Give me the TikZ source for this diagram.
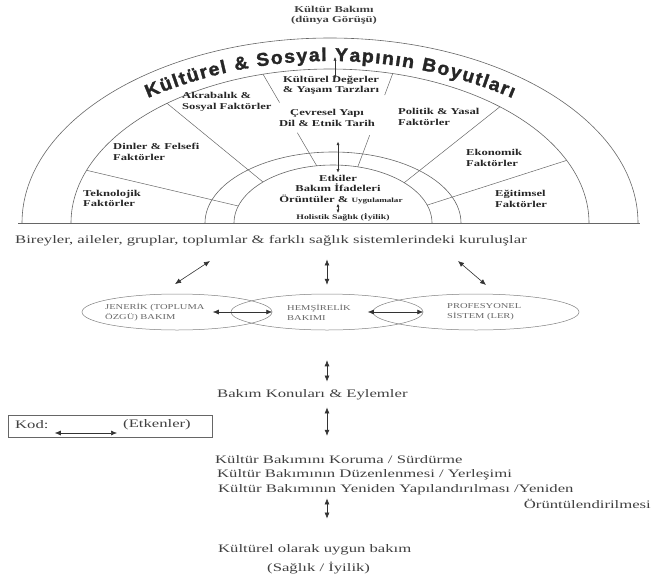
\documentclass[tikz,border=0pt]{standalone}
\usepackage{fontspec}
\setmainfont{Liberation Serif}[FakeStretch=1.4]
\newfontfamily\bodyfont{Liberation Serif}[FakeStretch=1.45]
\newfontfamily\titlefont{Liberation Sans}[FakeStretch=1.05,FakeBold=1.6]
\usetikzlibrary{arrows.meta,calc,shapes.geometric,decorations.text}
\newcommand\ttlfont{\titlefont\bfseries\fontsize{18.5}{18.5}\selectfont}
\tikzset{
  ring/.style={draw,black!60,line width=0.6pt},
  spoke/.style={draw,black!60,line width=0.5pt},
  lbl/.style={inner sep=0pt,text=black!85,font=\bfseries\fontsize{9}{10.5}\selectfont},
  body/.style={inner sep=0pt,text=black!75,font=\bodyfont\fontsize{11.5}{13}\selectfont},
  oval/.style={draw,black!50,ellipse,line width=0.5pt,minimum height=36pt,inner sep=0pt},
  ovaltxt/.style={inner sep=0pt,text=black!60,align=left,font=\fontsize{7.5}{10}\selectfont},
  dbl/.style={{Latex[length=6pt,width=5pt]}-{Latex[length=6pt,width=5pt]},line width=0.6pt,black!80},
  dsm/.style={{Latex[length=3.5pt,width=3pt]}-{Latex[length=3.5pt,width=3pt]},line width=0.5pt,black!80},
}

\begin{document}
\begin{tikzpicture}[x=1pt,y=-1pt]
  \useasboundingbox (0,0) rectangle (653,587);

  % HALF SUN: rings and base line
  \draw[ring] (22,223) arc[start angle=180,end angle=360,x radius=308,y radius=185];
  \draw[ring] (71,223) arc[start angle=180,end angle=360,x radius=259,y radius=154];
  \draw[ring] (205,223) arc[start angle=180,end angle=360,x radius=128,y radius=71];
  \draw[ring] (234,223) arc[start angle=180,end angle=360,x radius=99,y radius=58];
  \draw[ring] (18,223) -- (640,223);

  % spokes between the factors
  \draw[spoke] (86.6,170.3) -- (238.3,206.0);
  \draw[spoke] (167.0,103.3) -- (263.0,182.0);
  \draw[spoke] (263.0,74.2) -- (279.6,102.6);
  \draw[spoke] (297.4,132.8) -- (316.7,165.8);
  \draw[spoke] (392.7,73.6) -- (384.7,95.0);
  \draw[spoke] (369.7,135.1) -- (357.8,166.8);
  \draw[spoke] (499.9,106.8) -- (404.2,182.7);
  \draw[spoke] (566.6,160.4) -- (427.2,205.1);

  % title in the outer band
  \path[decorate,decoration={text along path,text align={fit to path},text color=black!85,
      text format delimiters={|}{|},
      text={|\ttlfont|Kültürel {\&} Sosyal Yapının Boyutları}}]
    (148,98) arc[start angle=247,end angle=293,radius=466];

  \node[lbl,align=center,text=black!75] (kbakim) at (334,15.5) {Kültür Bakımı\\(dünya Görüşü)};

  % factors
  \node[lbl,align=center] (kultdeg) at (331,85.5) {Kültürel Değerler\\\& Yaşam Tarzları};
  \node[lbl,align=left,anchor=west] (akrab) at (182,102) {Akrabalık \&\\Sosyal Faktörler};
  \node[lbl,align=center] (cevre) at (327,118) {Çevresel Yapı\\Dil \& Etnik Tarih};
  \node[lbl,align=left,anchor=west] (politik) at (398,117) {Politik \& Yasal\\Faktörler};
  \node[lbl,align=left,anchor=west] (dinler) at (113,152) {Dinler \& Felsefi\\Faktörler};
  \node[lbl,align=left,anchor=west] (ekonomi) at (466,158) {Ekonomik\\Faktörler};
  \node[lbl,align=left,anchor=west] (tekno) at (83,198.5) {Teknolojik\\Faktörler};
  \node[lbl,align=left,anchor=west] (egitim) at (495,199) {Eğitimsel\\Faktörler};

  % core of the half sun
  \node[lbl] (etkiler) at (338,178) {Etkiler};
  \node[lbl] (ifade) at (338,188) {Bakım İfadeleri};
  \node[lbl] (oruntu) at (341,199) {Örüntüler \& {\fontsize{6.5}{7}\selectfont Uygulamalar}};
  \node[lbl,font=\bfseries\fontsize{7}{8}\selectfont] (holist) at (343,217) {Holistik Sağlık (İyilik)};

  \coordinate (crest) at (335,57);
  \draw[dsm,shorten >=-3pt] (crest) -- (crest |- kultdeg.north);
  \draw[dsm,shorten >=2pt] ([yshift=33pt]etkiler.north) -- (etkiler.north);
  \draw[dsm] (oruntu.south -| etkiler) -- (holist.north -| etkiler);

  % SYSTEMS
  \node[body,anchor=west] (bireyler) at (15,241) {Bireyler, aileler, gruplar, toplumlar \& farklı sağlık sistemlerindeki kuruluşlar};

  \node[oval,minimum width=190pt] (jen) at (177,312) {};
  \node[oval,minimum width=192pt] (hem) at (327,312) {};
  \node[oval,minimum width=206pt] (pro) at (476,312) {};
  \node[ovaltxt,anchor=west] (jentxt) at (105,312) {JENERİK (TOPLUMA\\ÖZGÜ) BAKIM};
  \node[ovaltxt,anchor=west] (hemtxt) at (287,312) {HEMŞİRELİK\\BAKIMI};
  \node[ovaltxt,anchor=west] (protxt) at (447,312) {PROFESYONEL\\SİSTEM (LER)};

  \coordinate (ul) at (210,261);
  \coordinate (dl) at (175,284);
  \coordinate (ur) at (458,261);
  \coordinate (dr) at (486,285);
  \draw[dbl] (ul) -- (dl);
  \draw[dbl] ([yshift=-13pt]bireyler.south -| hem.north) -- ([yshift=9pt]hem.north);
  \draw[dbl] (ur) -- (dr);

  \draw[dbl] ([xshift=-18pt]hem.west) -- (jen.east);
  \draw[dbl] ([xshift=-5pt]pro.west) -- (hem.east);

  % CARE
  \node[body,anchor=west] (bakim) at (217,395) {Bakım Konuları \& Eylemler};
  \draw[dbl] ([yshift=-30pt]hem.south) -- ([yshift=8pt]bakim.north -| hem.south);

  \node[draw,black!60,line width=0.5pt,minimum width=204pt,minimum height=22pt] (kod) at (110,426) {};
  \node[body,anchor=west] (kodtxt) at (15,425) {Kod:};
  \node[body,anchor=west] (etken) at (123,425) {(Etkenler)};
  \draw[dbl,shorten <=6pt,shorten >=6pt] ([yshift=-8pt]kodtxt.east) -- ([yshift=-8pt]etken.west);

  \node[body,anchor=west] (koruma) at (215,460) {Kültür Bakımını Koruma / Sürdürme};
  \node[body,anchor=west] (duzen) at (217,475) {Kültür Bakımının Düzenlenmesi / Yerleşimi};
  \node[body,anchor=west] (yeniden) at (218,490) {Kültür Bakımının Yeniden Yapılandırılması /Yeniden};
  \node[body,anchor=east] (orunt) at (651,504) {Örüntülendirilmesi};
  \draw[dbl] ([yshift=-7pt]bakim.south -| hem.south) -- ([yshift=20pt]koruma.north -| hem.south);

  \node[body,anchor=west] (uygun) at (218,550) {Kültürel olarak uygun bakım};
  \node[body,anchor=west] (saglik) at (267,568) {(Sağlık / İyilik)};
  \draw[dbl] ([yshift=-3pt]yeniden.south -| hem.south) -- ([yshift=26pt]uygun.north -| hem.south);

\end{tikzpicture}
\end{document}
